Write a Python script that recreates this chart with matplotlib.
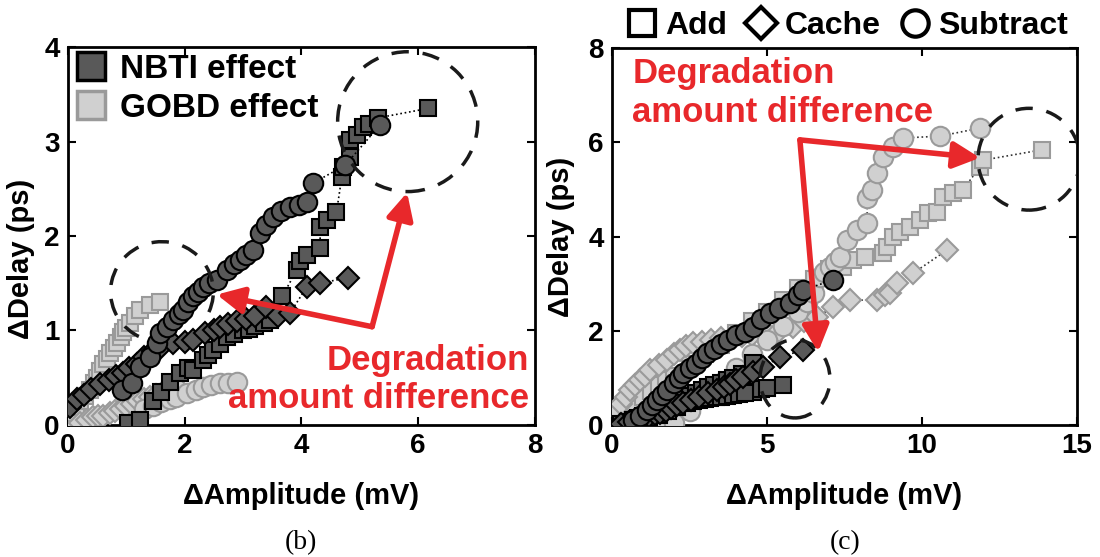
import matplotlib
matplotlib.use("Agg")
import matplotlib.pyplot as plt
from matplotlib.lines import Line2D
from matplotlib.patches import Ellipse, Arc

plt.rcParams['font.family'] = ['Liberation Sans', 'DejaVu Sans']
plt.rcParams['font.weight'] = 'bold'

# ---- data, panel (b) ----
b_nbti_add_x = [1.03, 1.23, 1.45, 1.6, 1.75, 1.92, 2.05, 2.14, 2.31, 2.4, 2.49, 2.6, 2.72, 2.85, 3.0,
                3.1, 3.2, 3.35, 3.46, 3.67, 3.92, 3.97, 4.1, 4.32, 4.32, 4.43, 4.6, 4.69, 4.72, 4.83,
                4.83, 4.95, 5.06, 5.15, 5.31, 6.17]
b_nbti_add_y = [0.02, 0.05, 0.25, 0.35, 0.46, 0.55, 0.6, 0.58, 0.69, 0.74, 0.79, 0.86, 0.93, 0.96, 1.0,
                1.02, 1.05, 1.08, 1.11, 1.36, 1.64, 1.74, 1.8, 1.87, 2.1, 2.17, 2.25, 2.62, 2.73, 2.84,
                3.02, 3.07, 3.15, 3.18, 3.25, 3.35]
b_nbti_sub_x = [0.92, 1.1, 1.23, 1.4, 1.52, 1.58, 1.7, 1.8, 1.9, 1.97, 2.05, 2.14, 2.22, 2.31, 2.42,
                2.55, 2.72, 2.85, 2.95, 3.05, 3.17, 3.29, 3.4, 3.51, 3.65, 3.8, 3.95, 4.09, 4.2, 4.75,
                5.34]
b_nbti_sub_y = [0.37, 0.44, 0.61, 0.72, 0.87, 0.97, 1.04, 1.11, 1.17, 1.22, 1.3, 1.36, 1.41, 1.46, 1.5,
                1.53, 1.64, 1.7, 1.75, 1.8, 1.85, 2.03, 2.12, 2.2, 2.26, 2.31, 2.33, 2.36, 2.56, 2.75,
                3.17]
b_nbti_cache_x = [0.03, 0.15, 0.28, 0.4, 0.55, 0.7, 0.82, 0.95, 1.05, 1.18, 1.3, 1.45, 1.6, 1.8, 2.0,
                  2.14, 2.35, 2.5, 2.6, 2.75, 2.9, 3.05, 3.2, 3.4, 3.6, 3.8, 4.09, 4.32, 4.8]
b_nbti_cache_y = [0.19, 0.27, 0.32, 0.38, 0.43, 0.48, 0.52, 0.55, 0.6, 0.65, 0.72, 0.78, 0.83, 0.87, 0.88,
                  0.9, 0.97, 1.0, 1.04, 1.07, 1.1, 1.12, 1.15, 1.25, 1.15, 1.18, 1.46, 1.5, 1.56]
b_gobd_add_x = [0.0, 0.07, 0.13, 0.2, 0.3, 0.38, 0.45, 0.5, 0.55, 0.6, 0.66, 0.72, 0.78, 0.84, 0.9,
                0.95, 1.0, 1.06, 1.15, 1.23, 1.4, 1.58]
b_gobd_add_y = [0.02, 0.13, 0.19, 0.25, 0.31, 0.37, 0.44, 0.5, 0.57, 0.65, 0.7, 0.76, 0.82, 0.87, 0.93,
                0.98, 1.03, 1.08, 1.15, 1.22, 1.27, 1.3]
b_gobd_cache_x = [0.2, 0.32, 0.43, 0.52, 0.6, 0.72, 0.8, 0.9, 1.0, 1.1, 1.2, 1.3, 1.4, 1.5, 1.65, 1.86]
b_gobd_cache_y = [0.02, 0.05, 0.08, 0.09, 0.1, 0.13, 0.15, 0.17, 0.2, 0.22, 0.25, 0.27, 0.3, 0.32, 0.36, 0.4]
b_gobd_sub_x = [1.3, 1.45, 1.6, 1.75, 1.85, 2.04, 2.2, 2.31, 2.45, 2.6, 2.75, 2.9]
b_gobd_sub_y = [0.17, 0.2, 0.24, 0.28, 0.3, 0.34, 0.37, 0.4, 0.42, 0.44, 0.44, 0.45]

# ---- data, panel (c) ----
c_dark_add_x = [0.3, 0.5, 0.68, 0.85, 1.0, 1.2, 1.45, 1.7, 1.9, 2.1, 2.3, 2.5, 2.7, 2.9, 3.1, 3.3,
                3.5, 3.7, 3.9, 4.2, 4.55, 4.55, 4.8, 5.0, 5.52]
c_dark_add_y = [0.03, 0.06, 0.1, 0.15, 0.2, 0.25, 0.3, 0.37, 0.42, 0.48, 0.55, 0.62, 0.68, 0.74, 0.8, 0.85,
                0.9, 0.95, 1.0, 1.08, 1.32, 0.7, 0.76, 0.79, 0.85]
c_dark_add2_x = [1.2, 1.5, 1.8, 2.1, 2.42, 2.6, 2.8, 3.0, 3.16, 3.35, 3.5, 3.7, 3.9, 4.1, 4.3]
c_dark_add2_y = [0.15, 0.22, 0.3, 0.38, 0.47, 0.5, 0.53, 0.55, 0.57, 0.59, 0.6, 0.62, 0.64, 0.66, 0.67]
c_dark_cache_x = [0.3, 0.55, 0.8, 1.0, 1.2, 1.4, 1.55, 1.75, 1.9, 2.1, 2.29, 2.55, 2.8, 3.1, 3.39,
                  3.6, 3.8, 4.0, 4.23, 4.55, 4.87, 5.42, 6.16]
c_dark_cache_y = [0.03, 0.07, 0.11, 0.15, 0.2, 0.23, 0.25, 0.3, 0.36, 0.42, 0.47, 0.54, 0.6, 0.67, 0.74,
                  0.81, 0.88, 0.95, 1.02, 1.12, 1.23, 1.44, 1.59]
c_dark_sub_x = [0.68, 0.9, 1.13, 1.3, 1.45, 1.6, 1.77, 2.0, 2.15, 2.29, 2.5, 2.7, 2.9, 3.06, 3.3, 3.5,
                3.75, 4.0, 4.3, 4.55, 4.8, 5.1, 5.4, 5.74, 6.0, 6.16, 7.13]
c_dark_sub_y = [0.1, 0.2, 0.32, 0.42, 0.52, 0.63, 0.74, 0.9, 1.0, 1.1, 1.2, 1.3, 1.42, 1.53, 1.62, 1.72,
                1.8, 1.9, 1.98, 2.08, 2.25, 2.38, 2.48, 2.59, 2.75, 2.86, 3.08]
c_light_add_x = [0.03, 0.25, 0.5, 0.75, 1.0, 1.25, 1.5, 1.75, 2.0, 2.5, 3.0, 3.5, 4.0, 4.5, 5.0, 5.5,
                 6.0, 6.5, 7.0, 7.45, 7.78, 8.16, 8.74, 8.87, 9.06, 9.3, 9.61, 9.94, 10.2, 10.48, 10.68,
                 11.0, 11.32, 11.87, 11.97, 13.87]
c_light_add_y = [0.04, 0.17, 0.3, 0.45, 0.6, 0.72, 0.85, 0.95, 1.05, 1.3, 1.5, 1.7, 1.95, 2.2, 2.4, 2.65,
                 2.9, 3.1, 3.3, 3.36, 3.5, 3.57, 3.65, 3.78, 3.99, 4.1, 4.2, 4.35, 4.5, 4.52, 4.84,
                 4.92, 4.99, 5.48, 5.62, 5.84]
c_light_cache_x = [0.03, 0.15, 0.3, 0.45, 0.58, 0.75, 0.9, 1.05, 1.23, 1.5, 1.77, 2.0, 2.2, 2.4, 2.61,
                   2.9, 3.2, 3.5, 3.9, 4.2, 4.5, 5.0, 5.4, 5.84, 6.2, 6.61, 7.13, 7.68, 8.55, 8.8,
                   8.97, 9.19, 9.71, 10.8]
c_light_cache_y = [0.17, 0.3, 0.45, 0.6, 0.74, 0.85, 0.95, 1.05, 1.17, 1.28, 1.38, 1.5, 1.6, 1.68, 1.74,
                   1.77, 1.8, 1.84, 1.87, 1.88, 1.9, 1.95, 2.0, 2.08, 2.2, 2.29, 2.5, 2.65, 2.65, 2.75,
                   2.8, 3.01, 3.22, 3.71]
c_light_sub_x = [1.7, 2.0, 2.5, 3.0, 3.5, 4.0, 4.5, 5.0, 5.5, 6.0, 6.3, 6.5, 6.71, 6.85, 7.03, 7.2,
                 7.35, 7.58, 7.9, 8.23, 8.23, 8.39, 8.55, 8.74, 9.06, 9.39, 10.58, 11.87]
c_light_sub_y = [0.0, 0.05, 0.3, 0.6, 0.9, 1.2, 1.5, 1.8, 2.1, 2.4, 2.6, 2.8, 3.14, 3.25, 3.36, 3.45,
                 3.57, 3.93, 4.14, 4.28, 4.81, 4.99, 5.35, 5.69, 5.9, 6.09, 6.13, 6.3]

DARK = dict(mfc='#595959', mec='black', color='black')
LIGHT = dict(mfc='#d0d0d0', mec='#9a9a9a', color='#333333')
RED = '#e8282b'


def series(ax, x, y, marker, style, ms, z):
    ax.plot(x, y, linestyle=':', lw=1.2, marker=marker, ms=ms, mew=1.5, zorder=z, **style)


def style_axes(ax, xmax, ymax, xticks, yticks):
    ax.set_xlim(0, xmax)
    ax.set_ylim(0, ymax)
    ax.set_xticks(xticks)
    ax.set_yticks(yticks)
    ax.tick_params(direction='in', length=6, width=1.5, labelsize=20, top=True, right=True, pad=6)
    for s in ax.spines.values():
        s.set_linewidth(2)
    ax.set_xlabel('ΔAmplitude (mV)', fontsize=21, fontweight='bold', labelpad=16)
    ax.set_ylabel('ΔDelay (ps)', fontsize=21, fontweight='bold')


def red_arrows(ax, vertex, tips):
    for t in tips:
        ax.annotate('', xy=t, xytext=vertex, zorder=12,
                    arrowprops=dict(arrowstyle='-|>', color=RED, lw=4, mutation_scale=40,
                                    shrinkA=0, shrinkB=0))


fig = plt.figure(figsize=(11, 5.57), dpi=100)
axb = fig.add_axes([0.0618, 0.237, 0.4245, 0.6786])
axc = fig.add_axes([0.5564, 0.237, 0.4227, 0.6768])

# panel (b)
series(axb, b_gobd_add_x, b_gobd_add_y, 's', LIGHT, 12, 3)
series(axb, b_gobd_cache_x, b_gobd_cache_y, 'D', LIGHT, 11, 3)
series(axb, b_gobd_sub_x, b_gobd_sub_y, 'o', LIGHT, 14, 3)
series(axb, b_nbti_add_x, b_nbti_add_y, 's', DARK, 12, 4)
series(axb, b_nbti_cache_x, b_nbti_cache_y, 'D', DARK, 11, 4)
series(axb, b_nbti_sub_x, b_nbti_sub_y, 'o', DARK, 14, 4)
style_axes(axb, 8, 4, [0, 2, 4, 6, 8], [0, 1, 2, 3, 4])
axb.yaxis.set_label_coords(-0.07, 0.44)

axb.add_patch(Ellipse((5.82, 3.21), 2.40, 1.48, fill=False, ls=(0, (5, 4)), lw=2.5,
                      color='#1a1a1a', zorder=10))
axb.add_patch(Arc((1.61, 1.41), 1.76, 1.06, theta1=-15, theta2=245, ls=(0, (5, 4)), lw=2.5,
                  color='#1a1a1a', zorder=10))
red_arrows(axb, (5.21, 1.04), [(5.81, 2.46), (2.55, 1.38)])
axb.text(7.9, 0.86, 'Degradation\namount difference', color=RED, fontsize=25, fontweight='bold',
         ha='right', va='top', multialignment='right', linespacing=1.2, zorder=13)

hb = [Line2D([], [], ls='none', marker='s', ms=20, mew=2.5, mfc='#595959', mec='black'),
      Line2D([], [], ls='none', marker='s', ms=20, mew=2.5, mfc='#d0d0d0', mec='#9a9a9a')]
axb.legend(hb, ['NBTI effect', 'GOBD effect'], loc='upper left', frameon=False,
           prop=dict(size=24, weight='bold'), handlelength=1.0, handletextpad=0.35,
           borderaxespad=0.0, labelspacing=0.25, borderpad=0.2)

# panel (c)
series(axc, c_light_add_x, c_light_add_y, 's', LIGHT, 12, 3)
series(axc, c_light_cache_x, c_light_cache_y, 'D', LIGHT, 11, 3)
series(axc, c_light_sub_x, c_light_sub_y, 'o', LIGHT, 14, 3)
series(axc, c_dark_add_x, c_dark_add_y, 's', DARK, 12, 4)
series(axc, c_dark_add2_x, c_dark_add2_y, 's', DARK, 12, 4)
series(axc, c_dark_cache_x, c_dark_cache_y, 'D', DARK, 11, 4)
series(axc, c_dark_sub_x, c_dark_sub_y, 'o', DARK, 14, 4)
style_axes(axc, 15, 8, [0, 5, 10, 15], [0, 2, 4, 6, 8])
axc.yaxis.set_label_coords(-0.08, 0.5)

axc.add_patch(Ellipse((13.45, 5.64), 3.29, 2.16, fill=False, ls=(0, (5, 4)), lw=2.5,
                      color='#1a1a1a', zorder=10))
axc.add_patch(Ellipse((5.9, 0.98), 2.26, 1.66, fill=False, ls=(0, (5, 4)), lw=2.5,
                      color='#1a1a1a', zorder=10))
red_arrows(axc, (6.06, 6.05), [(11.87, 5.67), (6.65, 1.55)])
axc.text(0.65, 7.8, 'Degradation\namount difference', color=RED, fontsize=25, fontweight='bold',
         ha='left', va='top', linespacing=1.2, zorder=13)

hc = [Line2D([], [], ls='none', marker=m, ms=s, mew=3, mfc='white', mec='black')
      for m, s in zip(['s', 'D', 'o'], [19, 16, 19])]
fig.legend(hc, ['Add', 'Cache', 'Subtract'], loc='center', bbox_to_anchor=(0.77, 0.953),
           ncol=3, frameon=False, prop=dict(size=23, weight='bold'), handlelength=1.0,
           handletextpad=0.25, columnspacing=0.55)

fig.text(0.274, 0.025, '(b)', family='Liberation Serif', fontweight='normal', fontsize=20,
         ha='center', va='center')
fig.text(0.768, 0.025, '(c)', family='Liberation Serif', fontweight='normal', fontsize=20,
         ha='center', va='center')

fig.savefig('out.png', dpi=100)
